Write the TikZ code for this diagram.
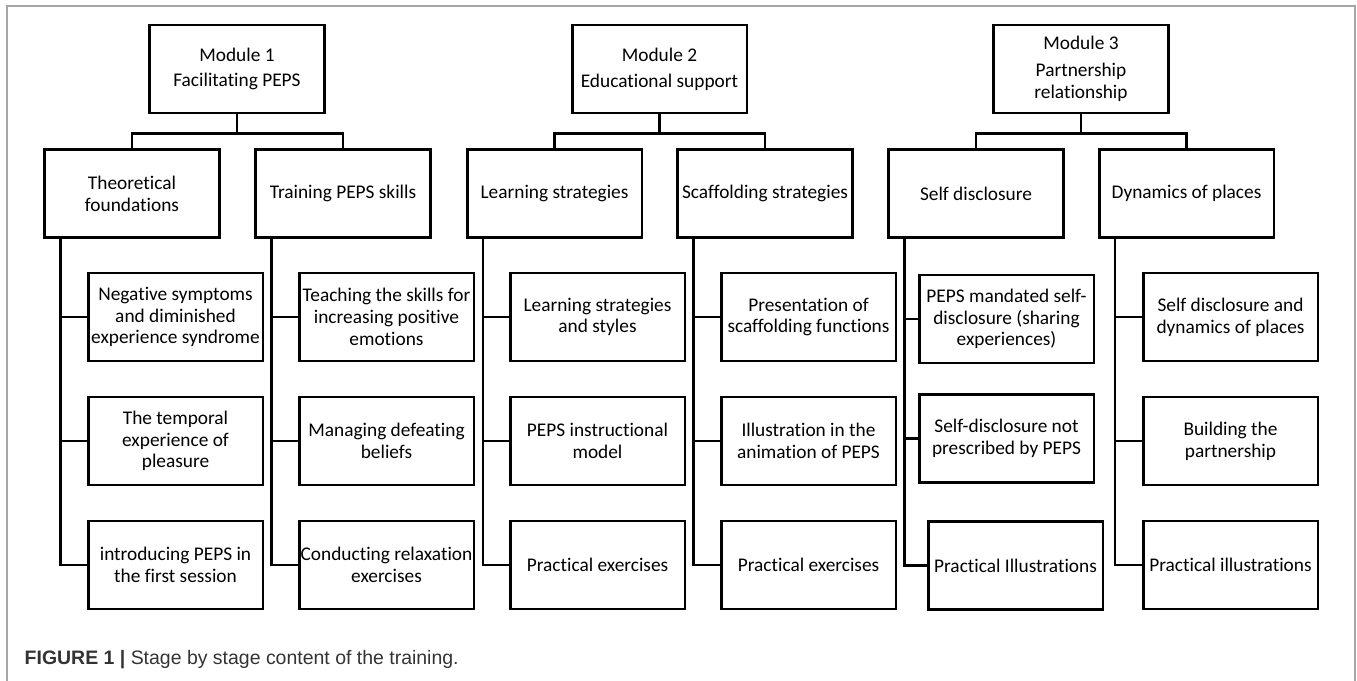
\documentclass[tikz,border=0pt]{standalone}
\usepackage{fontspec}
\setmainfont{Carlito}[Ligatures=NoCommon]
\newfontfamily\capfont{Liberation Sans}
\usetikzlibrary{calc}

\begin{document}
\begin{tikzpicture}[x=0.75pt,y=-0.75pt,
  box/.style={draw, line width=2pt, minimum width=131pt, minimum height=66pt,
    align=center, inner sep=1pt, font=\fontsize{14.5}{16.3}\selectfont},
  link/.style={line width=2pt}]

\useasboundingbox (0,0) rectangle (1357,681);

% Frame
\draw[gray!70, line width=0.8pt] (7,681) -- (7,6) -- (1355,6) -- (1355,681);

% Modules
\node[box] (m1) at (237,69) {Module 1\\[3pt]Facilitating PEPS};
\node[box] (m2) at (659.5,69) {Module 2\\[3pt]Educational support};
\node[box] (m3) at (1081,69) {Module 3\\[4pt]Partnership\\relationship};

% Themes
\node[box] (a1) at (132,193.5) {Theoretical\\foundations};
\node[box] (a2) at (343,193.5) {Training PEPS skills};
\node[box] (a3) at (554.5,193.5) {Learning strategies};
\node[box] (a4) at (765,193.5) {Scaffolding strategies};
\node[box] (a5) at (976,193.5) {Self disclosure};
\node[box] (a6) at (1186.5,193.5) {Dynamics of places};

% Contents, first column
\node[box] (c11) at (175.5,317) {Negative symptoms\\and diminished\\experience syndrome};
\node[box] (c12) at (175.5,441) {The temporal\\experience of\\pleasure};
\node[box] (c13) at (175.5,565) {introducing PEPS in\\the first session};

% Contents, second column
\node[box] (c21) at (386.5,317) {Teaching the skills for\\increasing positive\\emotions};
\node[box] (c22) at (386.5,441) {Managing defeating\\beliefs};
\node[box] (c23) at (386.5,565) {Conducting relaxation\\exercises};

% Contents, third column
\node[box] (c31) at (597.5,317) {Learning strategies\\and styles};
\node[box] (c32) at (597.5,441) {PEPS instructional\\model};
\node[box] (c33) at (597.5,565) {Practical exercises};

% Contents, fourth column
\node[box] (c41) at (808.5,317) {Presentation of\\scaffolding functions};
\node[box] (c42) at (808.5,441) {Illustration in the\\animation of PEPS};
\node[box] (c43) at (808.5,565) {Practical exercises};

% Contents, fifth column
\node[box] (c51) at (1006.5,319) {PEPS mandated self-\\disclosure (sharing\\experiences)};
\node[box] (c52) at (1006.5,438.5) {Self-disclosure not\\prescribed by PEPS};
\node[box] (c53) at (1015.5,565.5) {Practical Illustrations};

% Contents, sixth column
\node[box] (c61) at (1230.5,317) {Self disclosure and\\dynamics of places};
\node[box] (c62) at (1230.5,441) {Building the\\partnership};
\node[box] (c63) at (1230.5,565) {Practical illustrations};

% Module to themes
\foreach \m/\l/\r in {m1/a1/a2, m2/a3/a4, m3/a5/a6}
{
\coordinate (\m-j) at ($(\m.south)+(0,19)$);
\draw[link] (\m.south) -- (\m-j) -| (\l.north);
\draw[link] (\m-j) -| (\r.north);
}

% Themes to contents
\foreach \a/\c in {a1/1, a2/2, a3/3, a4/4, a5/5, a6/6}
{
\foreach \r in {1,2,3}
\draw[link] ([xshift=12.75pt]\a.south west) |- (c\c\r.west);
}

% Caption
\node[anchor=west, text=black!80, font=\capfont\fontsize{14.6}{17}\selectfont] (cap) at (20,660)
  {\textbf{FIGURE 1 |} Stage by stage content of the training.};

\end{tikzpicture}
\end{document}
